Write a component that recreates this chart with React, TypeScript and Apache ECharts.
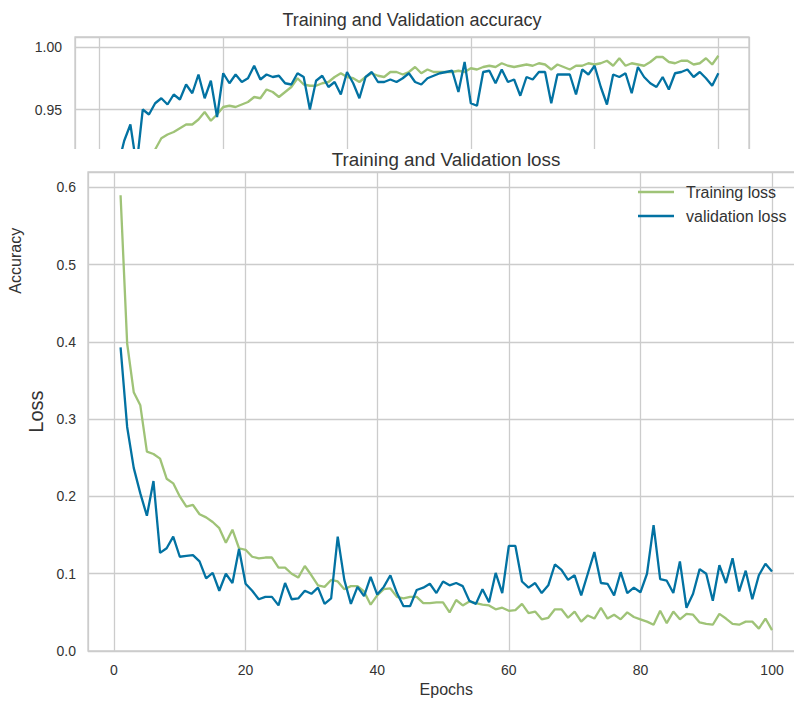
import React, { useEffect, useRef } from "react";
import * as echarts from "echarts";

const epochs: number[] = Array.from({ length: 100 }, (_, i) => i + 1);

const trainAcc: number[] = [
  0.665, 0.8, 0.85, 0.87, 0.885, 0.895, 0.903, 0.91, 0.918, 0.927,
  0.93, 0.932, 0.935, 0.938, 0.938, 0.942, 0.948, 0.941, 0.946, 0.952,
  0.953, 0.952, 0.954, 0.956, 0.96, 0.959, 0.966, 0.964, 0.96, 0.964,
  0.968, 0.975, 0.97, 0.969, 0.969, 0.971, 0.972, 0.976, 0.979, 0.976,
  0.975, 0.972, 0.976, 0.979, 0.977, 0.976, 0.98, 0.98, 0.978, 0.98,
  0.984, 0.979, 0.982, 0.98, 0.98, 0.98, 0.98, 0.981, 0.98, 0.983,
  0.982, 0.984, 0.985, 0.984, 0.987, 0.985, 0.984, 0.985, 0.986, 0.985,
  0.987, 0.986, 0.982, 0.986, 0.984, 0.982, 0.985, 0.985, 0.987, 0.986,
  0.987, 0.989, 0.985, 0.991, 0.985, 0.987, 0.986, 0.985, 0.988, 0.992,
  0.992, 0.988, 0.987, 0.989, 0.989, 0.986, 0.987, 0.991, 0.986, 0.993,
];

const valAcc: number[] = [
  0.86, 0.89, 0.905, 0.925, 0.938, 0.905, 0.95, 0.946, 0.955, 0.959,
  0.954, 0.962, 0.958, 0.97, 0.963, 0.978, 0.959, 0.973, 0.944, 0.979,
  0.971, 0.978, 0.972, 0.975, 0.985, 0.974, 0.978, 0.976, 0.977, 0.971,
  0.97, 0.979, 0.976, 0.95, 0.973, 0.977, 0.968, 0.972, 0.962, 0.98,
  0.971, 0.959, 0.976, 0.98, 0.972, 0.972, 0.974, 0.972, 0.975, 0.979,
  0.972, 0.97, 0.975, 0.977, 0.979, 0.98, 0.981, 0.964, 0.988, 0.955,
  0.953, 0.98, 0.981, 0.971, 0.982, 0.972, 0.974, 0.961, 0.976, 0.974,
  0.98, 0.98, 0.955, 0.978, 0.978, 0.978, 0.962, 0.982, 0.978, 0.985,
  0.968, 0.954, 0.978, 0.976, 0.979, 0.963, 0.984, 0.976, 0.971, 0.968,
  0.976, 0.966, 0.979, 0.98, 0.982, 0.976, 0.98, 0.975, 0.969, 0.979,
];

const trainLoss: number[] = [
  0.59, 0.398, 0.335, 0.318, 0.258, 0.255, 0.249, 0.223, 0.217, 0.2,
  0.187, 0.189, 0.177, 0.173, 0.167, 0.159, 0.14, 0.157, 0.133, 0.131,
  0.122, 0.12, 0.121, 0.121, 0.108, 0.108, 0.1, 0.095, 0.11, 0.098,
  0.085, 0.083, 0.092, 0.09, 0.08, 0.084, 0.084, 0.077, 0.06, 0.072,
  0.08, 0.081, 0.07, 0.068, 0.07, 0.07, 0.062, 0.062, 0.063, 0.063,
  0.05, 0.066, 0.059, 0.064, 0.062, 0.06, 0.059, 0.054, 0.056, 0.052,
  0.053, 0.061, 0.049, 0.051, 0.041, 0.043, 0.054, 0.054, 0.043, 0.051,
  0.038, 0.046, 0.042, 0.056, 0.042, 0.047, 0.041, 0.05, 0.044, 0.041,
  0.038, 0.034, 0.052, 0.036, 0.051, 0.041, 0.048, 0.047, 0.037, 0.035,
  0.034, 0.048, 0.042, 0.035, 0.034, 0.038, 0.038, 0.029, 0.042, 0.027,
];

const valLoss: number[] = [
  0.393, 0.29, 0.237, 0.204, 0.175, 0.22, 0.127, 0.133, 0.148, 0.122,
  0.123, 0.124, 0.116, 0.094, 0.101, 0.078, 0.1, 0.088, 0.132, 0.087,
  0.078, 0.067, 0.07, 0.07, 0.059, 0.088, 0.067, 0.068, 0.078, 0.074,
  0.082, 0.061, 0.068, 0.148, 0.092, 0.061, 0.083, 0.071, 0.096, 0.073,
  0.083, 0.098, 0.075, 0.058, 0.058, 0.079, 0.082, 0.087, 0.075, 0.09,
  0.085, 0.088, 0.084, 0.065, 0.061, 0.08, 0.063, 0.101, 0.075, 0.136,
  0.136, 0.09, 0.082, 0.088, 0.075, 0.085, 0.112, 0.105, 0.092, 0.098,
  0.072, 0.1, 0.128, 0.088, 0.087, 0.072, 0.102, 0.075, 0.082, 0.076,
  0.1, 0.163, 0.093, 0.091, 0.075, 0.116, 0.056, 0.074, 0.106, 0.1,
  0.065, 0.111, 0.088, 0.12, 0.077, 0.104, 0.067, 0.098, 0.113, 0.103,
];

const GREEN = "#9fc377";
const BLUE = "#0272a2";
const GRID = "#cccccc";
const TEXT = "#333333";
const FONT = "'Liberation Sans', Arial, sans-serif";

const pair = (vals: number[]) => epochs.map((e, i) => [e, vals[i]]);
const isMult = (v: number, step: number) =>
  Math.abs(v / step - Math.round(v / step)) < 1e-6;

export default function App() {
  const topRef = useRef<HTMLDivElement>(null);
  const botRef = useRef<HTMLDivElement>(null);

  useEffect(() => {
    const top = echarts.init(topRef.current!, null, { renderer: "svg" });
    const bot = echarts.init(botRef.current!, null, { renderer: "svg" });

    top.setOption({
      animation: false,
      textStyle: { fontFamily: FONT },
      title: {
        text: "Training and Validation accuracy",
        left: 412,
        top: 11,
        padding: 0,
        textAlign: "center",
        textStyle: { fontSize: 18, fontWeight: "normal", color: TEXT, fontFamily: FONT },
      },
      grid: {
        left: 75,
        top: 37,
        width: 674,
        height: 447.5,
        show: true,
        borderColor: GRID,
        borderWidth: 1.3,
        outerBoundsMode: "none",
        containLabel: false,
      },
      xAxis: {
        type: "value",
        min: -3.95,
        max: 104.95,
        splitNumber: 5,
        axisLine: { show: false },
        axisTick: { show: false },
        axisLabel: { show: false },
        splitLine: { show: true, lineStyle: { color: GRID, width: 1.3 } },
      },
      yAxis: {
        type: "value",
        min: 0.65,
        max: 1.008,
        interval: 0.05,
        name: "Accuracy",
        nameLocation: "middle",
        nameGap: 48,
        nameTextStyle: { fontSize: 16, lineHeight: 16, color: TEXT, fontFamily: FONT },
        axisLine: { show: false },
        axisTick: { show: false },
        axisLabel: {
          fontSize: 14,
          color: TEXT,
          margin: 13,
          fontFamily: FONT,
          // lower labels sit under the loss panel in the reference
          formatter: (v: number) =>
            isMult(v, 0.05) && v >= 0.949 && v <= 1.0001 ? v.toFixed(2) : "",
        },
        splitLine: { show: true, lineStyle: { color: GRID, width: 1.3 } },
      },
      series: [
        {
          name: "Training acc",
          type: "line",
          data: pair(trainAcc),
          symbol: "none",
          showSymbol: false,
          clip: true,
          lineStyle: { color: GREEN, width: 2.3 },
          itemStyle: { color: GREEN },
        },
        {
          name: "validation acc",
          type: "line",
          data: pair(valAcc),
          symbol: "none",
          showSymbol: false,
          clip: true,
          lineStyle: { color: BLUE, width: 2.3 },
          itemStyle: { color: BLUE },
        },
      ],
    });

    bot.setOption({
      animation: false,
      textStyle: { fontFamily: FONT },
      title: {
        text: "Training and Validation loss",
        left: 420,
        top: 1,
        padding: 0,
        textAlign: "center",
        textStyle: {
          fontSize: 18.8,
          lineHeight: 19,
          fontWeight: "normal",
          color: TEXT,
          fontFamily: FONT,
        },
      },
      legend: {
        orient: "vertical",
        left: 612,
        top: 35,
        icon: "rect",
        itemWidth: 36,
        itemHeight: 2.3,
        itemGap: 8,
        padding: 0,
        textStyle: {
          fontSize: 16,
          lineHeight: 14,
          color: TEXT,
          fontFamily: FONT,
          padding: [0, 0, 0, 7],
        },
        data: ["Training loss", "validation loss"],
      },
      grid: {
        left: 62,
        top: 23,
        width: 716.6,
        height: 479,
        show: true,
        borderColor: GRID,
        borderWidth: 1.3,
        outerBoundsMode: "none",
        containLabel: false,
      },
      xAxis: {
        type: "value",
        min: -3.95,
        max: 104.95,
        splitNumber: 5,
        name: "Epochs",
        nameLocation: "middle",
        nameGap: 30,
        nameTextStyle: { fontSize: 16, color: TEXT, fontFamily: FONT },
        axisLine: { show: false },
        axisTick: { show: false },
        axisLabel: {
          fontSize: 14,
          color: TEXT,
          margin: 12,
          fontFamily: FONT,
          showMinLabel: false,
          showMaxLabel: false,
          formatter: (v: number) => (isMult(v, 20) ? String(Math.round(v)) : ""),
        },
        splitLine: { show: true, lineStyle: { color: GRID, width: 1.3 } },
      },
      yAxis: {
        type: "value",
        min: 0,
        max: 0.62,
        interval: 0.1,
        name: "Loss",
        nameLocation: "middle",
        nameGap: 41,
        nameTextStyle: { fontSize: 20, lineHeight: 20, color: TEXT, fontFamily: FONT },
        axisLine: { show: false },
        axisTick: { show: false },
        axisLabel: {
          fontSize: 14,
          color: TEXT,
          margin: 12,
          fontFamily: FONT,
          formatter: (v: number) => (isMult(v, 0.1) && v <= 0.6001 ? v.toFixed(1) : ""),
        },
        splitLine: { show: true, lineStyle: { color: GRID, width: 1.3 } },
      },
      series: [
        {
          name: "Training loss",
          type: "line",
          data: pair(trainLoss),
          symbol: "none",
          showSymbol: false,
          lineStyle: { color: GREEN, width: 2.3 },
          itemStyle: { color: GREEN },
        },
        {
          name: "validation loss",
          type: "line",
          data: pair(valLoss),
          symbol: "none",
          showSymbol: false,
          lineStyle: { color: BLUE, width: 2.3 },
          itemStyle: { color: BLUE },
        },
      ],
    });

    return () => {
      top.dispose();
      bot.dispose();
    };
  }, []);

  return (
    <div
      style={{
        position: "fixed",
        left: 0,
        top: 0,
        width: 794,
        height: 701,
        background: "#ffffff",
        overflow: "hidden",
      }}
    >
      <div
        ref={topRef}
        style={{ position: "absolute", left: 0, top: 0, width: 794, height: 701 }}
      />
      <div
        ref={botRef}
        style={{
          position: "absolute",
          left: 26,
          top: 149,
          width: 768,
          height: 552,
          background: "#ffffff",
          overflow: "hidden",
        }}
      />
    </div>
  );
}
